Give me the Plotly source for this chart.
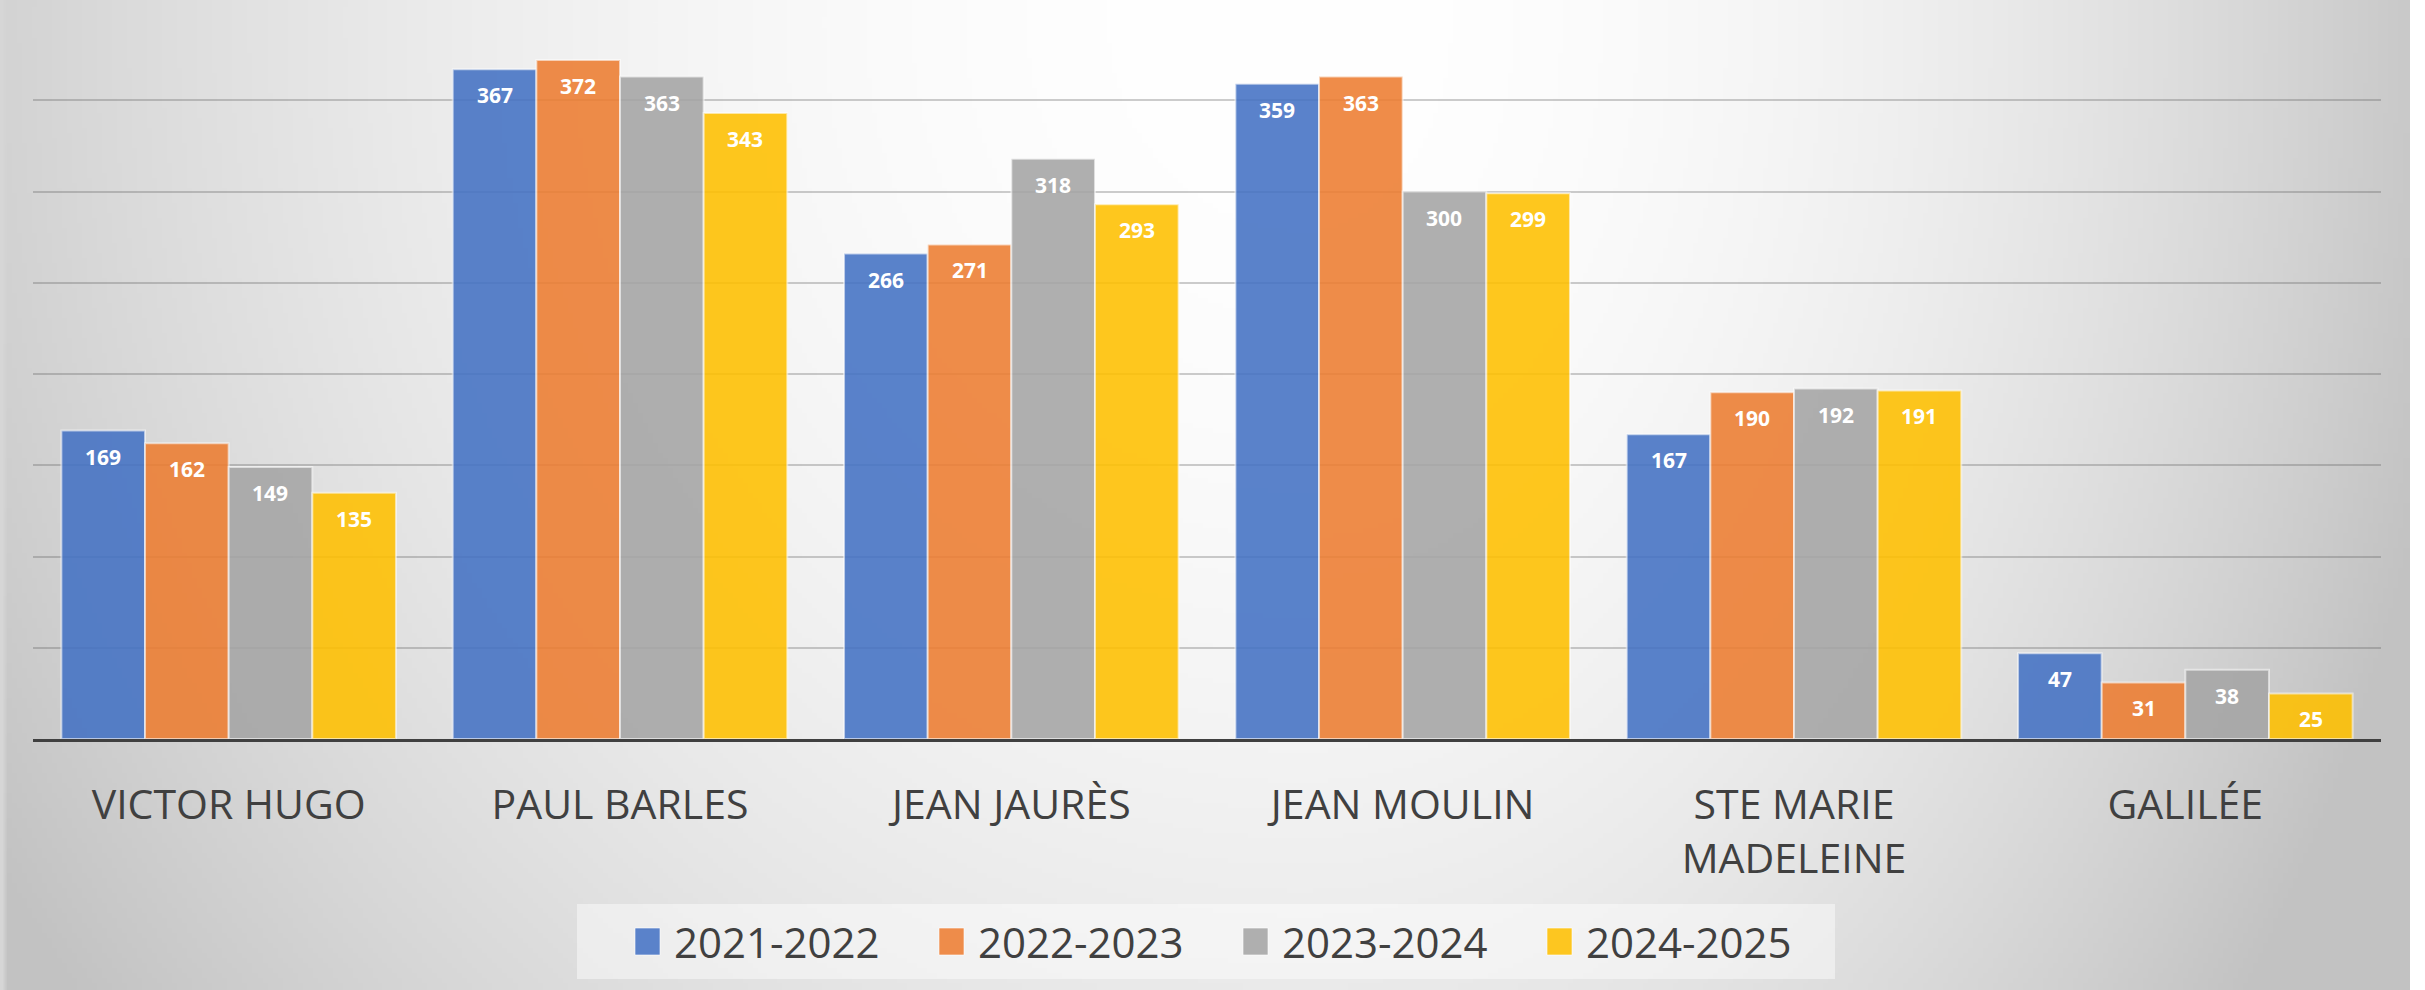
import base64, struct, zlib
import numpy as np
import plotly.graph_objects as go

# ---------------- data ----------------
categories = ["VICTOR HUGO", "PAUL BARLES", "JEAN JAURÈS", "JEAN MOULIN", "STE MARIE MADELEINE", "GALILÉE"]
tick_labels = ["VICTOR HUGO", "PAUL BARLES", "JEAN JAURÈS", "JEAN MOULIN", "STE MARIE<br>MADELEINE", "GALILÉE"]
series_names = ["2021-2022", "2022-2023", "2023-2024", "2024-2025"]
values_2021_2022 = [169, 367, 266, 359, 167, 47]
values_2022_2023 = [162, 372, 271, 363, 190, 31]
values_2023_2024 = [149, 363, 318, 300, 192, 38]
values_2024_2025 = [135, 343, 293, 299, 191, 25]
series_values = [values_2021_2022, values_2022_2023, values_2023_2024, values_2024_2025]
colors = ["#4472C4", "#ED7D31", "#A5A5A5", "#FFC000"]
legend_colors = ["#5A82CA", "#EE8C4A", "#AFAFAF", "#FDC620"]

# ---------------- layout geometry ----------------
W, H = 2425, 990
ML, MR, MT, MB = 33, 44, 9, 251
PW, PH = W - ML - MR, H - MT - MB
BARGAP = 0.145


def px(x):
    return (x - ML) / PW


def py(y):
    return 1 - (y - MT) / PH


# ---------------- background gradient (PNG built in memory) ----------------
def make_png(arr):
    h, w = arr.shape
    raw = b"".join(b"\x00" + arr[r].tobytes() for r in range(h))

    def chunk(tag, data):
        c = struct.pack(">I", len(data)) + tag + data
        return c + struct.pack(">I", zlib.crc32(tag + data) & 0xFFFFFFFF)

    ihdr = struct.pack(">IIBBBBB", w, h, 8, 0, 0, 0, 0)
    return (b"\x89PNG\r\n\x1a\n" + chunk(b"IHDR", ihdr)
            + chunk(b"IDAT", zlib.compress(raw, 9)) + chunk(b"IEND", b""))


BGW = 2410
step = 5
xs = np.arange(0, BGW, step, dtype=float)
ys = np.arange(0, H, step, dtype=float)
X, Y = np.meshgrid(xs, ys)
cx, cy = 1300.0, 20.0
ax = np.where(X < cx, 1300.0, 1000.0)
r2 = ((X - cx) / ax) ** 2 + ((Y - cy) / 1400.0) ** 2
val = np.clip(255 - 44 * r2, 194, 255).astype(np.uint8)
val[:, 0] = 214
png_b64 = base64.b64encode(make_png(val)).decode()

fig = go.Figure()

for name, vals, col in zip(series_names, series_values, colors):
    fig.add_trace(go.Bar(
        x=categories, y=vals, name=name,
        marker=dict(color=col, line=dict(color="rgba(255,255,255,0.6)", width=2)),
        opacity=0.88, showlegend=False, hoverinfo="x+y+name",
    ))

# data labels inside the top of each bar
annotations = []
nser = len(series_names)
bw = (1 - BARGAP) / nser
for i, vals in enumerate(series_values):
    for j, v in enumerate(vals):
        annotations.append(dict(
            x=j + (i - (nser - 1) / 2) * bw, y=v, xref="x", yref="y",
            text="<b>%d</b>" % v, showarrow=False, yanchor="middle", yshift=-26,
            font=dict(family="Open Sans", size=21, color="white"),
        ))

# manual legend (large square swatches)
shapes = [dict(type="rect", xref="paper", yref="paper",
               x0=px(577), x1=px(1835), y0=py(979), y1=py(904),
               fillcolor="rgba(255,255,255,0.45)", line=dict(width=0), layer="below")]
for i, (name, col) in enumerate(zip(series_names, legend_colors)):
    x0 = 635 + 304 * i
    shapes.append(dict(type="rect", xref="paper", yref="paper",
                       x0=px(x0), x1=px(x0 + 25), y0=py(955), y1=py(928),
                       fillcolor=col, line=dict(color="rgba(255,255,255,0.6)", width=1)))
    annotations.append(dict(
        x=px(x0 + 37), y=py(941), xref="paper", yref="paper",
        text=name, showarrow=False, xanchor="left", yanchor="middle",
        font=dict(family="Open Sans", size=42, color="#404040"),
    ))

fig.update_layout(
    width=W, height=H,
    margin=dict(l=ML, r=MR, t=MT, b=MB),
    barmode="group", bargap=BARGAP, bargroupgap=0,
    paper_bgcolor="white", plot_bgcolor="rgba(0,0,0,0)",
    font=dict(family="Open Sans", color="#404040"),
    images=[dict(source="data:image/png;base64," + png_b64,
                 xref="paper", yref="paper",
                 x=px(0), y=py(0), sizex=BGW / PW, sizey=H / PH,
                 xanchor="left", yanchor="top", sizing="stretch", layer="below")],
    shapes=shapes,
    annotations=annotations,
    xaxis=dict(
        tickmode="array", tickvals=categories, ticktext=tick_labels,
        tickfont=dict(family="Open Sans", size=41, color="#404040"),
        showline=True, linecolor="#404040", linewidth=3,
        showgrid=False, ticks="", ticklabelstandoff=28,
    ),
    yaxis=dict(
        range=[0, 400], dtick=50, showticklabels=False,
        showgrid=True, gridcolor="rgba(90,90,90,0.30)", gridwidth=2,
        zeroline=False, showline=False, ticks="",
    ),
)

fig.write_html(
    "out.html",
    config={"displayModeBar": False},
    post_script="document.body.style.margin='0px';document.body.style.overflow='hidden';",
)
